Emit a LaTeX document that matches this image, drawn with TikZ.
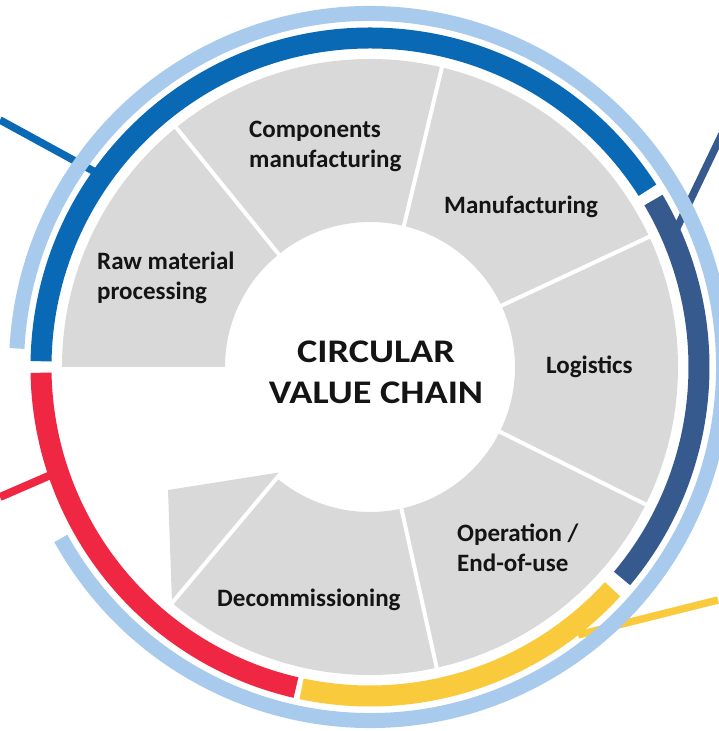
\documentclass[tikz,border=0pt]{standalone}
\usepackage{fontspec}
\setmainfont{Carlito}
\newfontfamily\titlefont[FakeStretch=1.16]{Carlito}
\usetikzlibrary{calc}
\definecolor{segray}{HTML}{D9D9D9}
\definecolor{bandblue}{HTML}{0A69B4}
\definecolor{bandslate}{HTML}{365A8E}
\definecolor{bandred}{HTML}{EF2743}
\definecolor{bandyellow}{HTML}{F9CA3C}
\definecolor{ringlight}{HTML}{A8CBED}
\definecolor{txt}{HTML}{141414}
\tikzset{
  conn/.style={line width=7.5pt, line cap=butt},
  band/.style={line width=21pt, line cap=butt},
  ring/.style={line width=15pt, line cap=butt, draw=ringlight},
  sep/.style={draw=white, line width=4pt},
  lab/.style={text=txt, font=\fontsize{25}{30}\selectfont\bfseries, align=left, inner sep=0pt},
  ttl/.style={text=txt, font=\titlefont\fontsize{33}{41}\selectfont\bfseries, align=center, inner sep=0pt}
}
\begin{document}
\begin{tikzpicture}[x=1pt,y=1pt]
\useasboundingbox (0,0) rectangle (718,731);
\coordinate (C) at (370,364);

% connectors (under the rings)
\coordinate (cb1) at (0,611);   \coordinate (cb2) at (97,558);
\coordinate (cs1) at (722,597); \coordinate (cs2) at (675,499);
\coordinate (cr1) at (0,234);   \coordinate (cr2) at (60,260);
\coordinate (cy1) at (718,131); \coordinate (cy2) at (578,96);
\draw[conn, draw=bandblue] (cb1) -- (cb2);
\draw[conn, draw=bandslate] (cs1) -- (cs2);
\draw[conn, draw=bandred, line width=8pt] (cr1) -- (cr2);
\draw[conn, draw=bandyellow] (cy1) -- (cy2);

% gray segments
\fill[segray] ($(C)+(180:308)$) arc[start angle=180, end angle=-130, radius=308]
  -- ($(C)+(-130:145)$) arc[start angle=-130, end angle=180, radius=145] -- cycle;
\fill[segray] (168,241) -- (282,259) -- (172,128) -- cycle;
\foreach \a in {129,76.5,25,-26.5,-77.5}
  \draw[sep] ($(C)+(\a:140)$) -- ($(C)+(\a:312)$);
\draw[sep] ($(C)+(-130:128)$) -- ($(C)+(-130:312)$);

% coloured bands
\draw[band, draw=bandblue]   ($(C)+(179:329)$)  arc[start angle=179, end angle=32.5, radius=329];
\draw[band, draw=bandslate]  ($(C)+(30.5:329)$) arc[start angle=30.5, end angle=-40, radius=329];
\draw[band, draw=bandyellow] ($(C)+(-42.5:329)$) arc[start angle=-42.5, end angle=-102, radius=329];
\draw[band, draw=bandred]    ($(C)+(-179:329)$) arc[start angle=-179, end angle=-103, radius=329];

% outer light ring
\draw[ring] ($(C)+(-151:353.5)$) arc[start angle=-151, end angle=177, radius=353.5];

% labels
\node[lab, anchor=west] (comp) at (249,585) {Components\\manufacturing};
\node[lab, anchor=west] (manu) at (444,524) {Manufacturing};
\node[lab, anchor=west] (raw)  at (97,453) {Raw material\\processing};
\node[lab, anchor=west] (logi) at (546,364) {Logistics};
\node[lab, anchor=west] (oper) at (457,183) {Operation /\\End-of-use};
\node[lab, anchor=west] (deco) at (217,131) {Decommissioning};
\node[ttl] (title) at (376,359) {CIRCULAR\\VALUE CHAIN};
\end{tikzpicture}
\end{document}
